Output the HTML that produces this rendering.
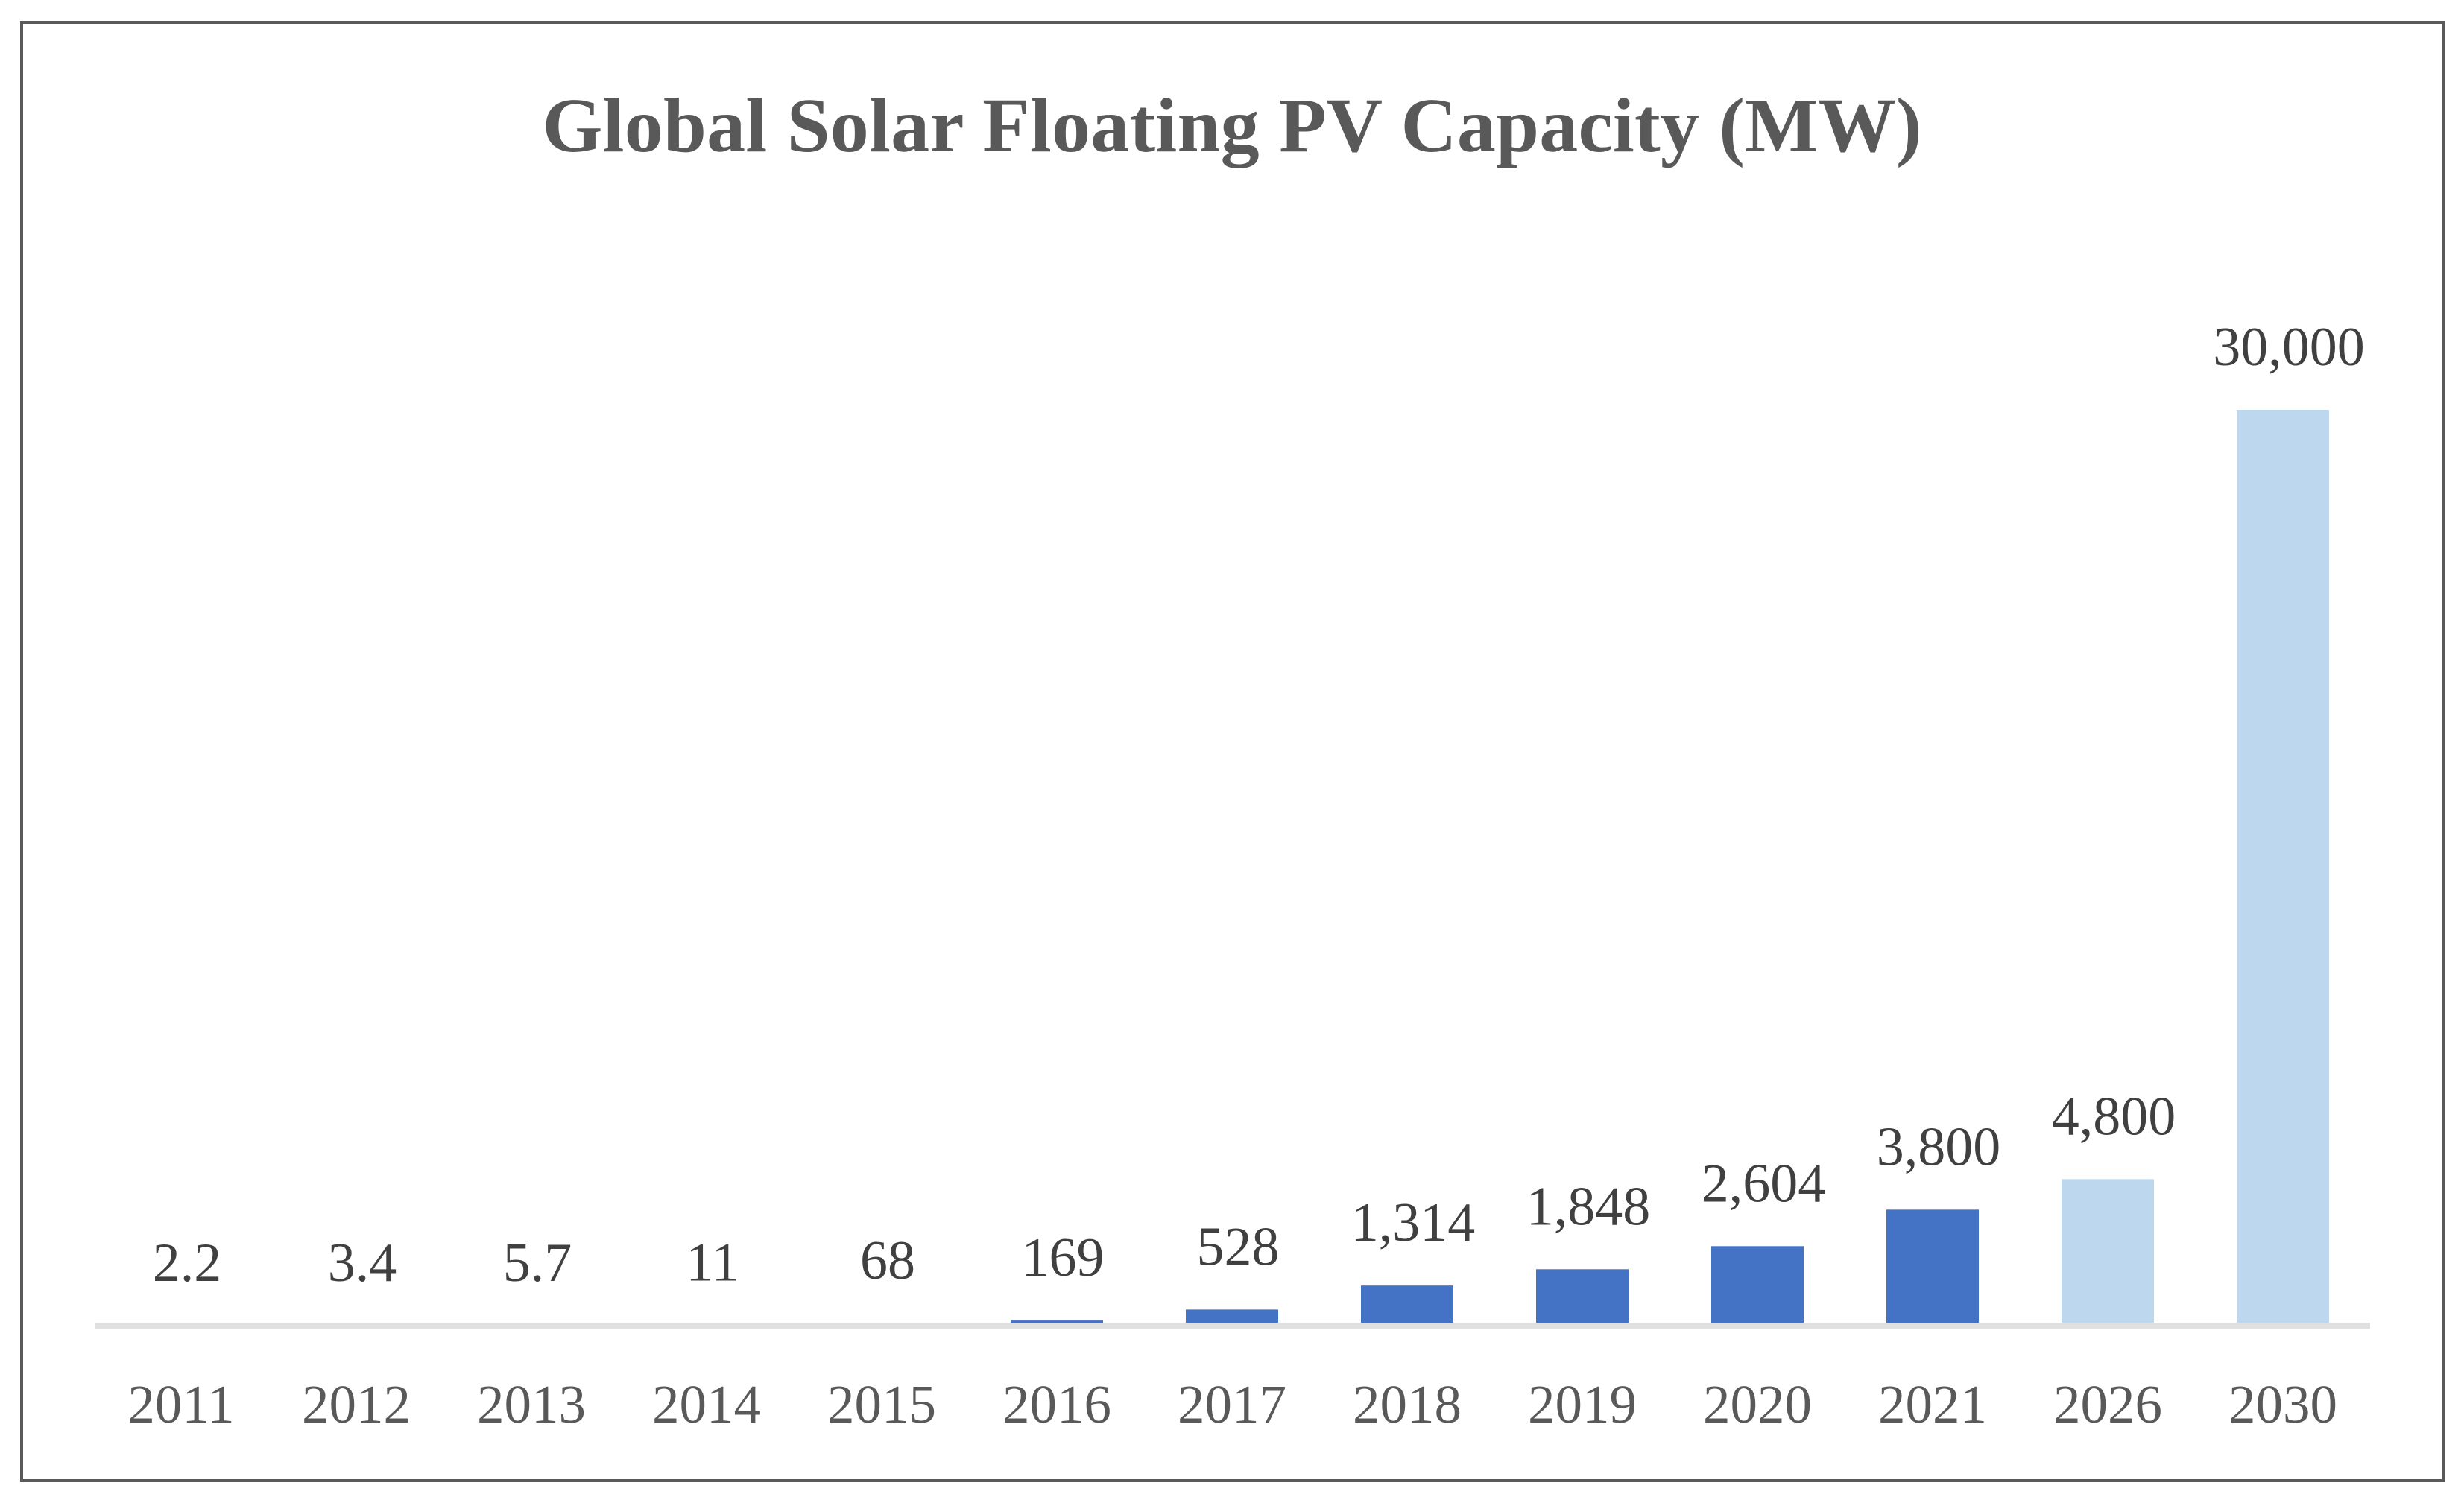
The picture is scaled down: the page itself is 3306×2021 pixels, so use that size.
<!DOCTYPE html>
<html lang="en">
<head>
<meta charset="utf-8">
<title>Global Solar Floating PV Capacity (MW)</title>
<style>
  html, body { margin: 0; padding: 0; background: #ffffff; }
  body { width: 3306px; height: 2021px; overflow: hidden; }
  svg { display: block; }
  text { font-family: "Liberation Serif", serif; }
</style>
</head>
<body>
<svg id="chart" xmlns="http://www.w3.org/2000/svg" width="3306" height="2021" viewBox="0 0 3306 2021">
  <rect x="0" y="0" width="3306" height="2021" fill="#ffffff"/>
  <rect x="29" y="30" width="3249" height="1957" fill="#ffffff" stroke="#595959" stroke-width="4"/>
  <text x="1653" y="203" text-anchor="middle" font-size="104" font-weight="700" fill="#595959" textLength="1851" lengthAdjust="spacing">Global Solar Floating PV Capacity (MW)</text>
  <g id="bars"></g>
  <rect x="128" y="1775" width="3052" height="8" fill="#e0e0e0"/>
  <g id="value-labels"></g>
  <g id="x-axis-labels"></g>
</svg>
<script>
const categories = ['2011', '2012', '2013', '2014', '2015', '2016', '2017', '2018', '2019', '2020', '2021', '2026', '2030'];
const capacityValues = [2.2, 3.4, 5.7, 11, 68, 169, 528, 1314, 1848, 2604, 3800, 4800, 30000];
const printedValues = ['2.2', '3.4', '5.7', '11', '68', '169', '528', '1,314', '1,848', '2,604', '3,800', '4,800', '30,000'];
const forecastYears = ['2026', '2030'];

const SVG_NS = 'http://www.w3.org/2000/svg';
const barsGroup = document.getElementById('bars');
const valueGroup = document.getElementById('value-labels');
const axisGroup = document.getElementById('x-axis-labels');

const firstCenter = 243;
const categoryStep = 235;
const barWidth = 124;
const baselineY = 1779;
const topValue = 30000;
const topY = 550;

function xScale(index) {
  return firstCenter + index * categoryStep;
}

function yScale(value) {
  return baselineY - (value / topValue) * (baselineY - topY);
}

categories.forEach(function (year, i) {
  const value = capacityValues[i];
  const cx = xScale(i);
  const top = yScale(value);

  const bar = document.createElementNS(SVG_NS, 'rect');
  
  
  bar.setAttribute('x', cx - barWidth / 2);
  bar.setAttribute('y', top);
  bar.setAttribute('width', barWidth);
  bar.setAttribute('height', baselineY - top);
  bar.setAttribute('fill', forecastYears.indexOf(year) >= 0 ? '#bdd7ee' : '#4472c4');
  barsGroup.appendChild(bar);

  const valueLabel = document.createElementNS(SVG_NS, 'text');
  
  
  valueLabel.setAttribute('x', cx + 8);
  valueLabel.setAttribute('y', top - 60);
  valueLabel.setAttribute('text-anchor', 'middle');
  valueLabel.setAttribute('font-size', '74');
  valueLabel.setAttribute('fill', '#404040');
  valueLabel.textContent = printedValues[i];
  valueGroup.appendChild(valueLabel);

  const yearLabel = document.createElementNS(SVG_NS, 'text');
  
  
  yearLabel.setAttribute('x', cx);
  yearLabel.setAttribute('y', 1909);
  yearLabel.setAttribute('text-anchor', 'middle');
  yearLabel.setAttribute('font-size', '73');
  yearLabel.setAttribute('fill', '#595959');
  yearLabel.textContent = year;
  axisGroup.appendChild(yearLabel);
});
</script>
</body>
</html>
